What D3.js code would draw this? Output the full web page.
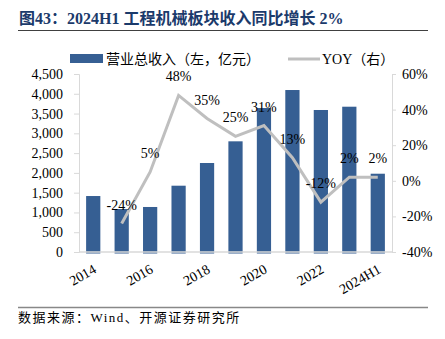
<!DOCTYPE html>
<html>
<head>
<meta charset="utf-8">
<script src="https://cdn.jsdelivr.net/npm/d3@7"></script>
<style>
body{margin:0;background:#fff;}
svg text{font-family:"Liberation Serif","Times New Roman","Noto Sans CJK SC",serif;}
</style>
</head>
<body>
<div id="chart"></div>
<script>
var W = 445, H = 339;
var margin = {top: 74, right: 53, bottom: 87, left: 79};
var w = W - margin.left - margin.right;
var h = H - margin.top - margin.bottom;

// revenue (100m yuan) and yoy growth
var years = ["2014","2015","2016","2017","2018","2019","2020","2021","2022","2023","2024H1"];
var revenue = [1415, 1087, 1138, 1676, 2250, 2798, 3640, 4095, 3590, 3673, 1979];
var yoy = [null, -24, 5, 48, 35, 25, 31, 13, -12, 2, 2];
var leftTicks = [0,500,1000,1500,2000,2500,3000,3500,4000,4500];
var rightTicks = [-40,-20,0,20,40,60];
var xLabels = ["2014","2016","2018","2020","2022","2024H1"];

var barColor = "#365f93";
var lineColor = "#bfbfbf";
var axisColor = "#d9d9d9";

var svg = d3.select("#chart").append("svg")
	.attr("width", W)
	.attr("height", H);

// title
svg.append("text")
	.attr("x", 19)
	.attr("y", 24)
	.style("font-size", "16px")
	.style("font-weight", "bold")
	.style("fill", "#1b3a6b")
	.text("图43：2024H1 工程机械板块收入同比增长 2%");

svg.append("line")
	.attr("x1", 18).attr("x2", 428)
	.attr("y1", 30.5).attr("y2", 30.5)
	.attr("stroke", "#404040")
	.attr("stroke-width", 1.2);

var g = svg.append("g")
	.attr("transform", "translate(" + margin.left + "," + margin.top + ")");

var x = d3.scaleBand().domain(years).range([0, w]).paddingInner(0.5).paddingOuter(0.25);
var yL = d3.scaleLinear().domain([0, 4500]).range([h, 0]);
var yR = d3.scaleLinear().domain([-40, 60]).range([h, 0]);

// bars
g.selectAll("rect.bar")
	.data(revenue)
	.enter()
	.append("rect")
	.attr("class", "bar")
	.attr("x", function(d,i){return x(years[i])})
	.attr("y", function(d){return yL(d)})
	.attr("width", x.bandwidth())
	.attr("height", function(d){return h - yL(d) + 1.5})
	.attr("fill", barColor);

// left axis
var axL = g.append("g")
	.call(d3.axisLeft(yL).tickValues(leftTicks).tickSize(5).tickPadding(11).tickFormat(d3.format(",")));
axL.select(".domain").attr("stroke", axisColor);
axL.selectAll(".tick line").attr("stroke", axisColor);
axL.selectAll("text").style("font-size", "14px").attr("fill", "#000");

// right axis
var axR = g.append("g")
	.attr("transform", "translate(" + w + ",0)")
	.call(d3.axisRight(yR).tickValues(rightTicks).tickSize(4).tickPadding(6).tickFormat(function(d){return d + "%"}));
axR.select(".domain").attr("stroke", axisColor);
axR.selectAll(".tick line").attr("stroke", axisColor);
axR.selectAll("text").style("font-size", "14px").attr("fill", "#000");

// baseline over bars
g.append("line")
	.attr("x1", 0).attr("x2", w)
	.attr("y1", yL(0)).attr("y2", yL(0))
	.attr("stroke", axisColor)
	.attr("stroke-width", 1.5);

// x labels
g.selectAll("text.xl")
	.data(xLabels)
	.enter()
	.append("text")
	.attr("class", "xl")
	.attr("transform", function(d){
		return "translate(" + (x(d) + x.bandwidth()/2 + 4) + "," + (h + 20) + ") rotate(-30)";
	})
	.attr("text-anchor", "end")
	.style("font-size", "14px")
	.text(function(d){return d});

// yoy line
var pts = years.map(function(d,i){return {year: d, v: yoy[i]}}).filter(function(d){return d.v !== null});
var line = d3.line()
	.x(function(d){return x(d.year) + x.bandwidth()/2})
	.y(function(d){return yR(d.v)});

g.append("path")
	.datum(pts)
	.attr("d", line)
	.attr("fill", "none")
	.attr("stroke", lineColor)
	.attr("stroke-width", 3);

g.selectAll("text.lbl")
	.data(pts)
	.enter()
	.append("text")
	.attr("class", "lbl")
	.attr("x", function(d){return x(d.year) + x.bandwidth()/2})
	.attr("y", function(d){return yR(d.v) - 14})
	.attr("text-anchor", "middle")
	.style("font-size", "14px")
	.text(function(d){return d.v + "%"});

// legend
var lg = svg.append("g");
lg.append("rect")
	.attr("x", 70).attr("y", 54)
	.attr("width", 33).attr("height", 9)
	.attr("fill", barColor);
lg.append("text")
	.attr("x", 106).attr("y", 64)
	.style("font-size", "14px")
	.text("营业总收入（左，亿元）");
lg.append("line")
	.attr("x1", 288).attr("x2", 320)
	.attr("y1", 59).attr("y2", 59)
	.attr("stroke", lineColor)
	.attr("stroke-width", 3);
lg.append("text")
	.attr("x", 322).attr("y", 64)
	.style("font-size", "14px")
	.text("YOY（右）");

// source
svg.append("line")
	.attr("x1", 18).attr("x2", 428)
	.attr("y1", 307.5).attr("y2", 307.5)
	.attr("stroke", "#888")
	.attr("stroke-width", 1.3);
svg.append("text")
	.attr("x", 18).attr("y", 322)
	.style("font-size", "13px")
	.style("letter-spacing", "1.5px")
	.text("数据来源：Wind、开源证券研究所");
</script>
</body>
</html>
